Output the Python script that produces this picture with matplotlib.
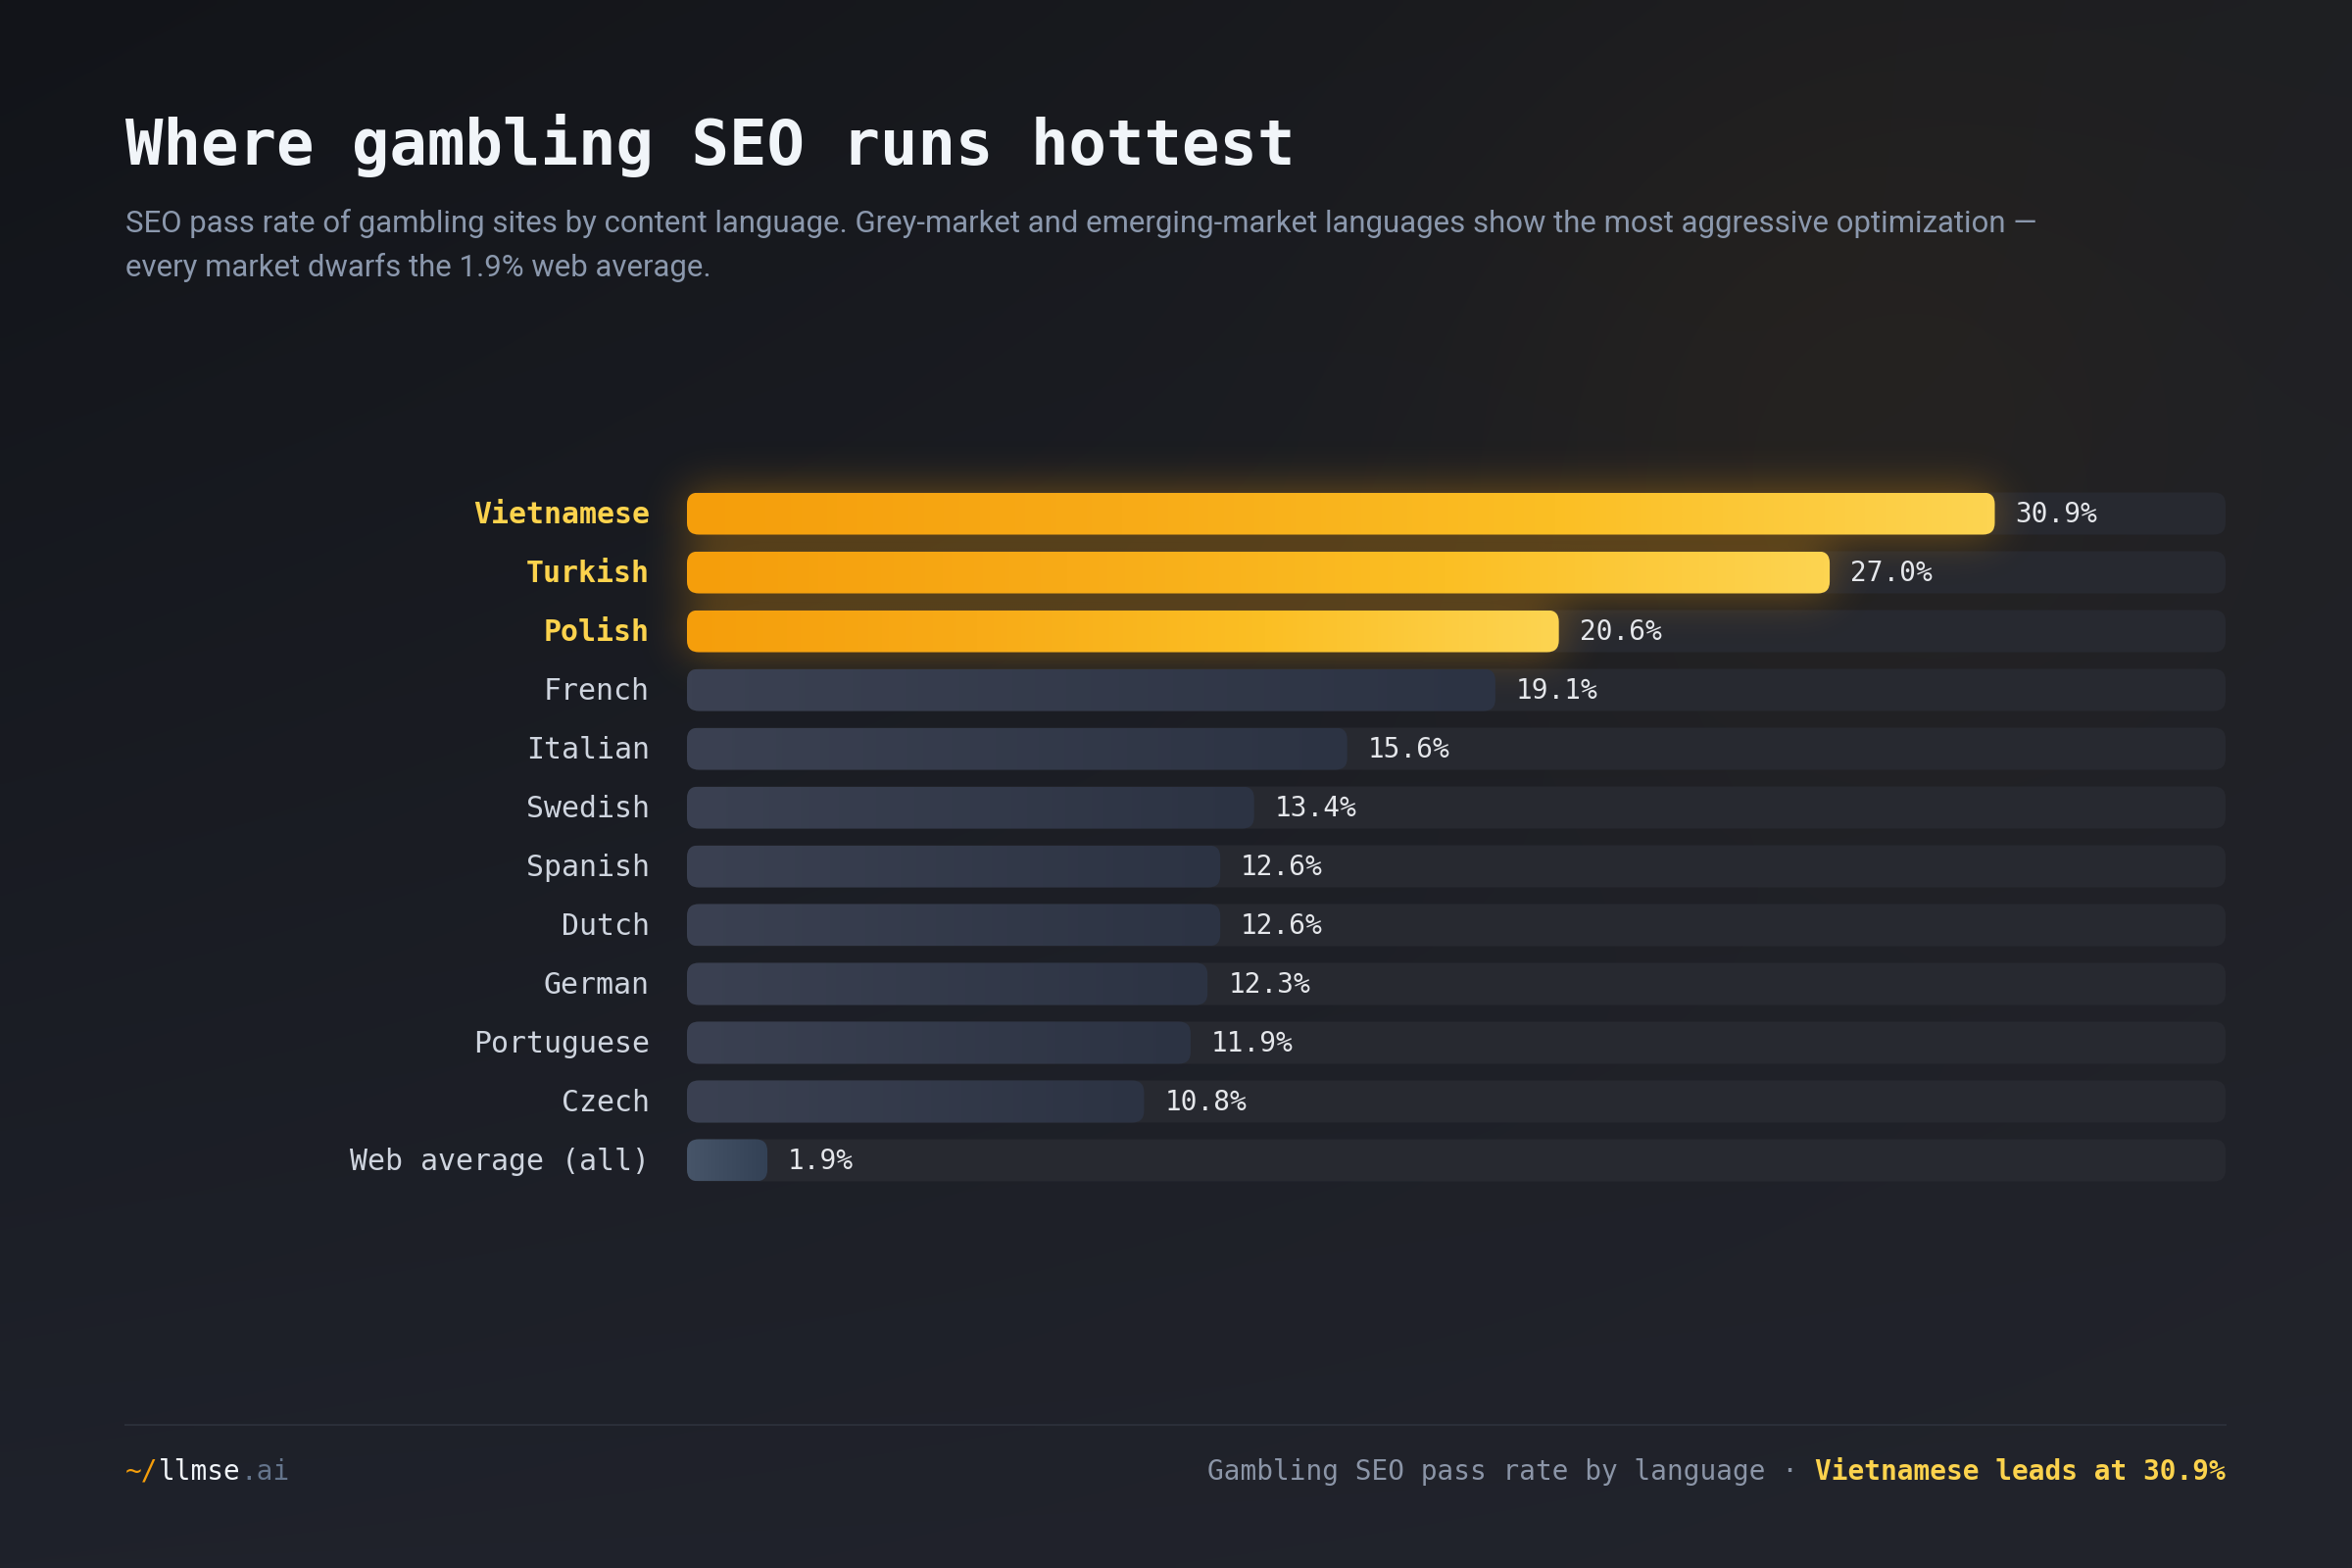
import numpy as np
import matplotlib
matplotlib.use("Agg")
import matplotlib.pyplot as plt
from matplotlib.patches import FancyBboxPatch
from matplotlib.colors import LinearSegmentedColormap
from matplotlib.lines import Line2D

# ---------------- data ----------------
languages = ["Vietnamese", "Turkish", "Polish", "French", "Italian", "Swedish",
             "Spanish", "Dutch", "German", "Portuguese", "Czech", "Web average (all)"]
rates = [30.9, 27.0, 20.6, 19.1, 15.6, 13.4, 12.6, 12.6, 12.3, 11.9, 10.8, 1.9]
highlight = [True, True, True, False, False, False, False, False, False, False, False, False]
baseline_flag = [False] * 11 + [True]

title = "Where gambling SEO runs hottest"
subtitle_lines = [
    "SEO pass rate of gambling sites by content language. Grey-market and emerging-market languages show the most aggressive optimization \u2014",
    "every market dwarfs the 1.9% web average.",
]
footer_brand = ["~/", "llmse", ".ai"]
footer_left_text = "Gambling SEO pass rate by language \u00b7 "
footer_right_text = "Vietnamese leads at 30.9%"

# ---------------- style ----------------
W, H = 2400, 1600
DPI = 100
MONO = ["DejaVu Sans Mono"]
SANS = ["Roboto", "DejaVu Sans"]
GOLD_TXT = "#fcd34d"

fig = plt.figure(figsize=(W / DPI, H / DPI), dpi=DPI)

# background
bg = fig.add_axes([0, 0, 1, 1], zorder=-10)
bg.set_axis_off()
gy, gx = np.mgrid[0:1:200j, 0:1:300j]
tl = np.array([18, 20, 25]); tr = np.array([30, 31, 35])
bl = np.array([31, 34, 43]); br = np.array([34, 36, 44])
img = (tl[None, None] * ((1 - gx) * (1 - gy))[..., None] + tr[None, None] * (gx * (1 - gy))[..., None]
       + bl[None, None] * ((1 - gx) * gy)[..., None] + br[None, None] * (gx * gy)[..., None])
warm = np.exp(-(((gx - 0.78) * 1.5) ** 2 + (gy - 0.24) ** 2) / 0.06)
img = img + warm[..., None] * np.array([8, 4, -3])[None, None]
bg.imshow(np.clip(img / 255, 0, 1), extent=(0, 1, 0, 1), aspect="auto", interpolation="bilinear")
bg.set_xlim(0, 1); bg.set_ylim(0, 1)

# bar axes
ax_l, ax_r = 701 / W, 2271 / W
ax_t, ax_b = 1 - 494 / H, 1 - 1214 / H
ax = fig.add_axes([ax_l, ax_b, ax_r - ax_l, ax_t - ax_b])
ax.set_axis_off()
n = len(languages)
xmax = max(rates) / 0.85
ax_px_w = (ax_r - ax_l) * W
ax_px_h = (ax_t - ax_b) * H
ppx = ax_px_w / xmax
ppy = ax_px_h / n
bar_h = 43 / ppy
radius_px = 12
rs = radius_px / ppx
asp = ppx / ppy

gold_cmap = LinearSegmentedColormap.from_list("gold", ["#f59e0b", "#f8ab17", "#fbbf24", "#fdd451"])
grey_cmap = LinearSegmentedColormap.from_list("grey", ["#3b4152", "#2c3343"])
base_cmap = LinearSegmentedColormap.from_list("base", ["#475569", "#334155"])
grad = np.linspace(0, 1, 256).reshape(1, -1)

# glow behind highlighted bars
hi_idx = [i for i, f in enumerate(highlight) if f]
if hi_idx:
    m = 90
    gx0, gx1 = -m / ppx, xmax
    gy0, gy1 = min(hi_idx) - 0.5 - m / ppy, max(hi_idx) + 0.5 + m / ppy
    nx = int((gx1 - gx0) * ppx / 2); ny = int((gy1 - gy0) * ppy / 2)
    xs = np.linspace(gx0, gx1, nx); ys = np.linspace(gy0, gy1, ny)
    mask = np.zeros((ny, nx))
    for i in hi_idx:
        rowsel = (ys >= i - bar_h / 2) & (ys <= i + bar_h / 2)
        colsel = (xs >= 0) & (xs <= rates[i])
        mask[np.ix_(rowsel, colsel)] = 1.0
    sig = 11.0
    k = np.exp(-0.5 * (np.arange(-int(4 * sig), int(4 * sig) + 1) / sig) ** 2)
    k /= k.sum()
    blur = np.apply_along_axis(lambda r: np.convolve(r, k, mode="same"), 1, mask)
    blur = np.apply_along_axis(lambda c: np.convolve(c, k, mode="same"), 0, blur)
    rgba = np.zeros((ny, nx, 4))
    rgba[..., 0] = 245 / 255; rgba[..., 1] = 158 / 255; rgba[..., 2] = 11 / 255
    rgba[..., 3] = np.clip(blur * 0.42, 0, 1)
    ax.imshow(rgba, extent=(gx0, gx1, gy1, gy0), origin="upper", aspect="auto",
              interpolation="bilinear", zorder=2, clip_on=False)

for i, (lang, v) in enumerate(zip(languages, rates)):
    track = FancyBboxPatch((0, i - bar_h / 2), xmax, bar_h,
                           boxstyle=f"round,pad=0,rounding_size={rs}", mutation_aspect=asp,
                           facecolor="#272930", edgecolor="none", zorder=1)
    ax.add_patch(track)
    bar = FancyBboxPatch((0, i - bar_h / 2), v, bar_h,
                         boxstyle=f"round,pad=0,rounding_size={rs}", mutation_aspect=asp,
                         facecolor="none", edgecolor="none", zorder=3)
    ax.add_patch(bar)
    cmap = gold_cmap if highlight[i] else (base_cmap if baseline_flag[i] else grey_cmap)
    im = ax.imshow(grad, cmap=cmap, extent=(0, v, i + bar_h / 2, i - bar_h / 2),
                   aspect="auto", interpolation="bilinear", zorder=3)
    im.set_clip_path(bar)
    ax.annotate(lang, xy=(0, i), xytext=(-38 * 72 / DPI, -1), textcoords="offset points",
                ha="right", va="center", fontsize=21.5, family=MONO,
                color=GOLD_TXT if highlight[i] else "#cfd5df",
                fontweight="bold" if highlight[i] else "normal", annotation_clip=False)
    ax.annotate(f"{v:.1f}%", xy=(v, i), xytext=(21 * 72 / DPI, -1), textcoords="offset points",
                ha="left", va="center", fontsize=20, family=MONO, color="#e5e7eb",
                annotation_clip=False)

ax.set_xlim(0, xmax)
ax.set_ylim(n - 0.5, -0.5)

# titles
fig.text(128 / W, 1 - 168 / H, title, fontsize=46, fontweight="bold", family=MONO,
         color="#f1f5f9", va="baseline", ha="left")
fig.text(128 / W, 1 - 237 / H, subtitle_lines[0], fontsize=22.4, family=SANS,
         color="#8b98ad", va="baseline", ha="left")
fig.text(128 / W, 1 - 282 / H, subtitle_lines[1], fontsize=22.4, family=SANS,
         color="#8b98ad", va="baseline", ha="left")

# footer
fig.add_artist(Line2D([128 / W, 2271 / W], [1 - 1454 / H, 1 - 1454 / H], color="#2b2f39",
                      linewidth=1.5, transform=fig.transFigure))
renderer = fig.canvas.get_renderer()
fy = 1 - 1510 / H
x = 128 / W
for txt, col in zip(footer_brand, ["#f59e0b", "#f1f5f9", "#64748b"]):
    t = fig.text(x, fy, txt, fontsize=20, family=MONO, color=col, va="baseline", ha="left")
    bb = t.get_window_extent(renderer=renderer)
    x = bb.x1 / W
t2 = fig.text(2271 / W, fy, footer_right_text, fontsize=20, family=MONO, fontweight="bold",
              color=GOLD_TXT, va="baseline", ha="right")
bb = t2.get_window_extent(renderer=renderer)
fig.text(bb.x0 / W, fy, footer_left_text, fontsize=20, family=MONO, color="#8b95a7",
         va="baseline", ha="right")

fig.savefig("out.png", dpi=DPI)
